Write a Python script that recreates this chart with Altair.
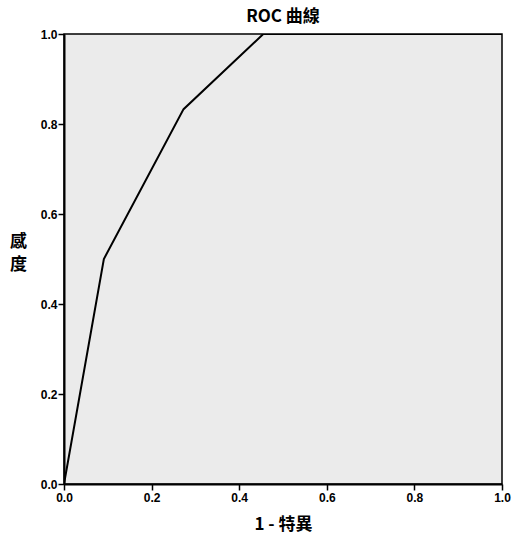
import altair as alt
import pandas as pd

fpr = [0.0, 0.091, 0.273, 0.455, 1.0]
tpr = [0.0, 0.5, 0.833, 1.0, 1.0]
ticks = [0.0, 0.2, 0.4, 0.6, 0.8, 1.0]

df = pd.DataFrame({"fpr": fpr, "tpr": tpr})

font = "Liberation Sans"
cjk = "Noto Sans CJK TC"

chart = alt.Chart(df).mark_line(color="black", strokeWidth=2, clip=True).encode(
    x=alt.X("fpr:Q", scale=alt.Scale(domain=[0, 1], nice=False),
            axis=alt.Axis(values=ticks, format=".1f", title="1 - 特異",
                          grid=False, domainColor="black", domainWidth=2,
                          ticks=True, tickColor="black", tickSize=6, tickWidth=1.5,
                          labelFont=font, labelFontSize=12, labelColor="black",
                          labelFontWeight="bold", labelPadding=2, labelFlush=False,
                          titleFont=cjk, titleFontSize=17, titleFontWeight="bold",
                          titleColor="black", titleY=40, titleBaseline="middle")),
    y=alt.Y("tpr:Q", scale=alt.Scale(domain=[0, 1], nice=False),
            axis=alt.Axis(values=ticks, format=".1f", title=["感", "度"],
                          grid=False, domainColor="black", domainWidth=2,
                          ticks=True, tickColor="black", tickSize=6, tickWidth=1.5,
                          labelFont=font, labelFontSize=12, labelColor="black",
                          labelFontWeight="bold", labelPadding=1, labelFlush=False,
                          titleFont=cjk, titleFontSize=17, titleFontWeight="bold",
                          titleColor="black", titleAngle=0, titleX=-46, titleY=199,
                          titleAlign="center", titleBaseline="top", titleLineHeight=23)),
).properties(
    width=438, height=450,
    title=alt.TitleParams("ROC 曲線", font=cjk, fontSize=17, fontWeight="bold",
                          color="black", anchor="middle", offset=2),
    autosize=alt.AutoSizeParams(type="none"),
    padding={"left": 64, "top": 34, "right": 10, "bottom": 52},
    background="white",
).configure_view(fill="#ebebeb", stroke="black", strokeWidth=1.5)

chart.save("out.html", embed_options={"renderer": "svg", "actions": False})
